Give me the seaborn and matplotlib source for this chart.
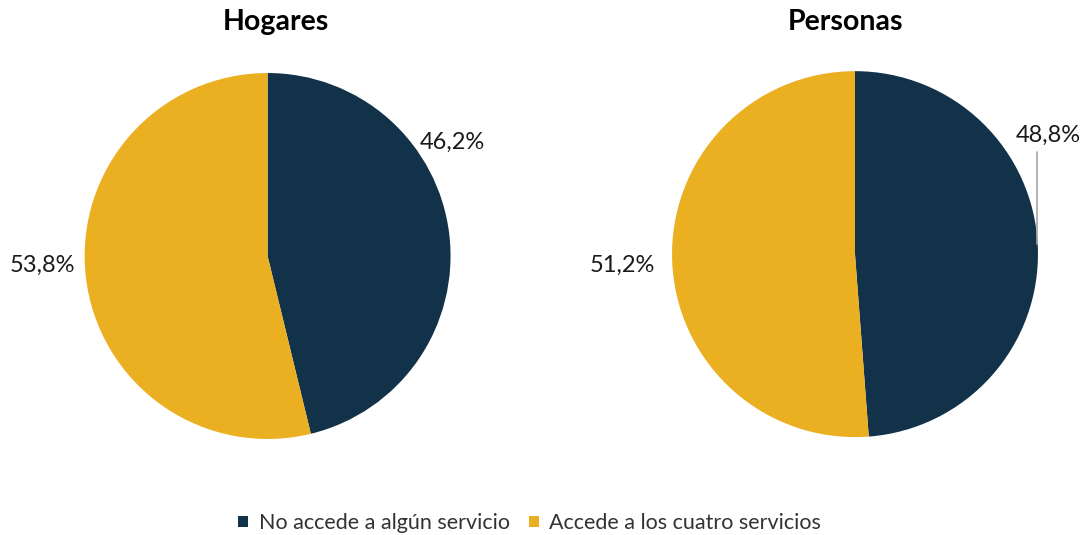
import matplotlib
matplotlib.use("Agg")
import matplotlib.pyplot as plt
from matplotlib.patches import Patch
import seaborn as sns

titles = ["Hogares", "Personas"]
categories = ["No accede a algún servicio", "Accede a los cuatro servicios"]
hogares = [46.2, 53.8]
personas = [48.8, 51.2]
colors = ["#12324A", "#EBAF22"]

sns.set_theme(style="white")
plt.rcParams['font.family'] = ['Lato', 'DejaVu Sans']

fig = plt.figure(figsize=(10.9, 5.35), dpi=100)
ax1 = fig.add_axes([0.2455 - 0.168, 0.5215 - 0.342, 0.336, 0.684])
ax2 = fig.add_axes([0.7844 - 0.168, 0.525 - 0.342, 0.336, 0.684])

def fmt(v):
    return f"{v:.1f}%".replace(".", ",")

for ax, vals, title in [(ax1, hogares, titles[0]), (ax2, personas, titles[1])]:
    ax.pie(vals, colors=colors, startangle=90, counterclock=False,
           wedgeprops=dict(linewidth=0))
    ax.set_xlim(-1, 1)
    ax.set_ylim(-1, 1)
    ax.set_aspect("equal")
    ax.axis("off")

fig.text(276 / 1090, 1 - 22 / 535, titles[0], ha="center", va="center",
         fontsize=20.5, fontweight="bold", color="black")
fig.text(845 / 1090, 1 - 22 / 535, titles[1], ha="center", va="center",
         fontsize=20.5, fontweight="bold", color="black")

lab_kw = dict(ha="center", va="center", fontsize=17, color="#1a1a1a", clip_on=False)
ax1.text(1.01, 0.62, fmt(hogares[0]), **lab_kw)
ax1.text(-1.23, -0.05, fmt(hogares[1]), **lab_kw)
ax2.text(1.055, 0.65, fmt(personas[0]), **lab_kw)
ax2.text(-1.27, -0.06, fmt(personas[1]), **lab_kw)
ax2.plot([0.995, 0.995], [0.055, 0.557], color="#a6a6a6", lw=1.2, clip_on=False)

handles = [Patch(facecolor=c, edgecolor="none") for c in colors]
fig.legend(handles, categories, loc="center", bbox_to_anchor=(0.486, 1 - 523 / 535),
           ncol=2, frameon=False, fontsize=15.5, handlelength=0.45, handleheight=0.45,
           handletextpad=0.5, columnspacing=0.9, labelcolor="#333333")

fig.savefig("out.png", dpi=100)
